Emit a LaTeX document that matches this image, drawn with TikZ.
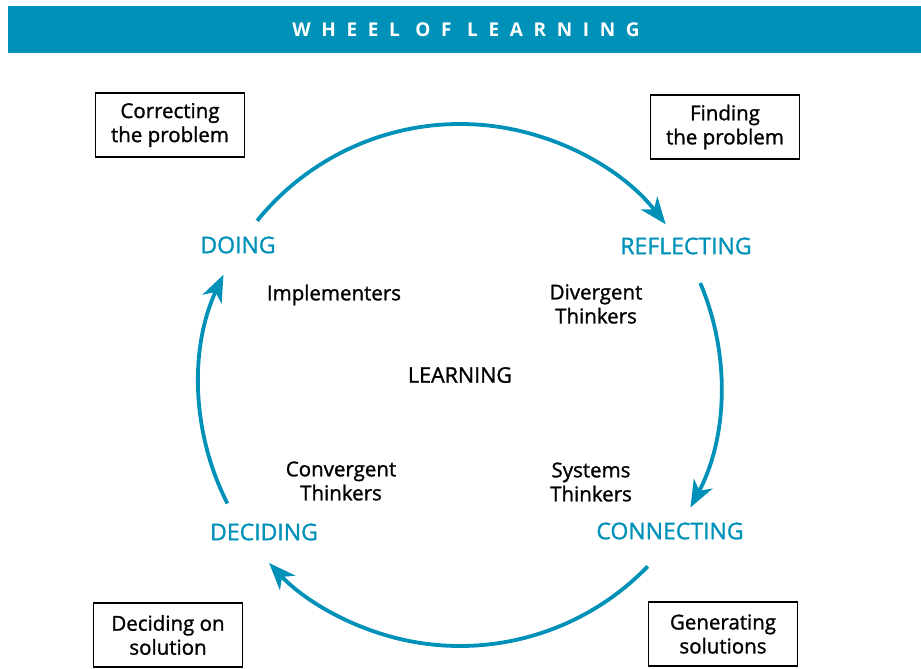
\documentclass[tikz,border=0pt]{standalone}
\usepackage{fontspec}
\setmainfont{Open Sans}[FakeBold=1.2]
\newfontfamily\titlefont[LetterSpace=56]{Open Sans}
\usepackage{xcolor}
\usepackage{tikz}
\usetikzlibrary{arrows.meta}
\definecolor{wheelblue}{RGB}{0,145,184}

\tikzset{
  stage/.style={text=wheelblue, font=\fontsize{23}{24}\selectfont},
  thinker/.style={align=center, font=\fontsize{20.5}{24}\selectfont},
  taskbox/.style={draw, line width=1.7pt, minimum width=149pt, minimum height=64pt, align=center, font=\fontsize{20.5}{24}\selectfont},
  wheel/.style={draw=wheelblue, line width=3.8pt, -{Stealth[length=27pt,width=21pt,inset=8pt]}}
}

\begin{document}
\begin{tikzpicture}[x=1pt,y=1pt]
  \useasboundingbox (0,0) rectangle (921,669);
  \fill[wheelblue] (8,616) rectangle (921,663);
  \node[text=white, font=\titlefont\bfseries\fontsize{19}{20}\selectfont] (title) at (466,639) {WHEEL OF LEARNING};

  \coordinate (c) at (460,284);
  \draw[wheel] ([shift={(141:261)}]c) arc[start angle=141, end angle=38, radius=261];
  \draw[wheel] ([shift={(23:261)}]c) arc[start angle=23, end angle=-28, radius=261];
  \draw[wheel] ([shift={(-44:261)}]c) arc[start angle=-44, end angle=-137, radius=261];
  \draw[wheel] ([shift={(-153:261)}]c) arc[start angle=-153, end angle=-205, radius=261];

  \node[stage] (doing) at (238,424) {DOING};
  \node[stage] (reflecting) at (686,423) {REFLECTING};
  \node[stage] (connecting) at (670,138) {CONNECTING};
  \node[stage] (deciding) at (264,137) {DECIDING};

  \node[font=\fontsize{21.5}{24}\selectfont] (learning) at (460,294) {LEARNING};
  \node[thinker] (impl) at (334,374) {Implementers};
  \node[thinker] (diverg) at (596,365) {Divergent\\Thinkers};
  \node[thinker] (systems) at (591,187) {Systems\\Thinkers};
  \node[thinker] (converg) at (341,188) {Convergent\\Thinkers};

  \node[taskbox] (correct) at (170,544) {Correcting\\the problem};
  \node[taskbox] (find) at (725,542) {Finding\\the problem};
  \node[taskbox] (decide) at (168,34) {Deciding on\\solution};
  \node[taskbox] (generate) at (723,35) {Generating\\solutions};
\end{tikzpicture}
\end{document}
